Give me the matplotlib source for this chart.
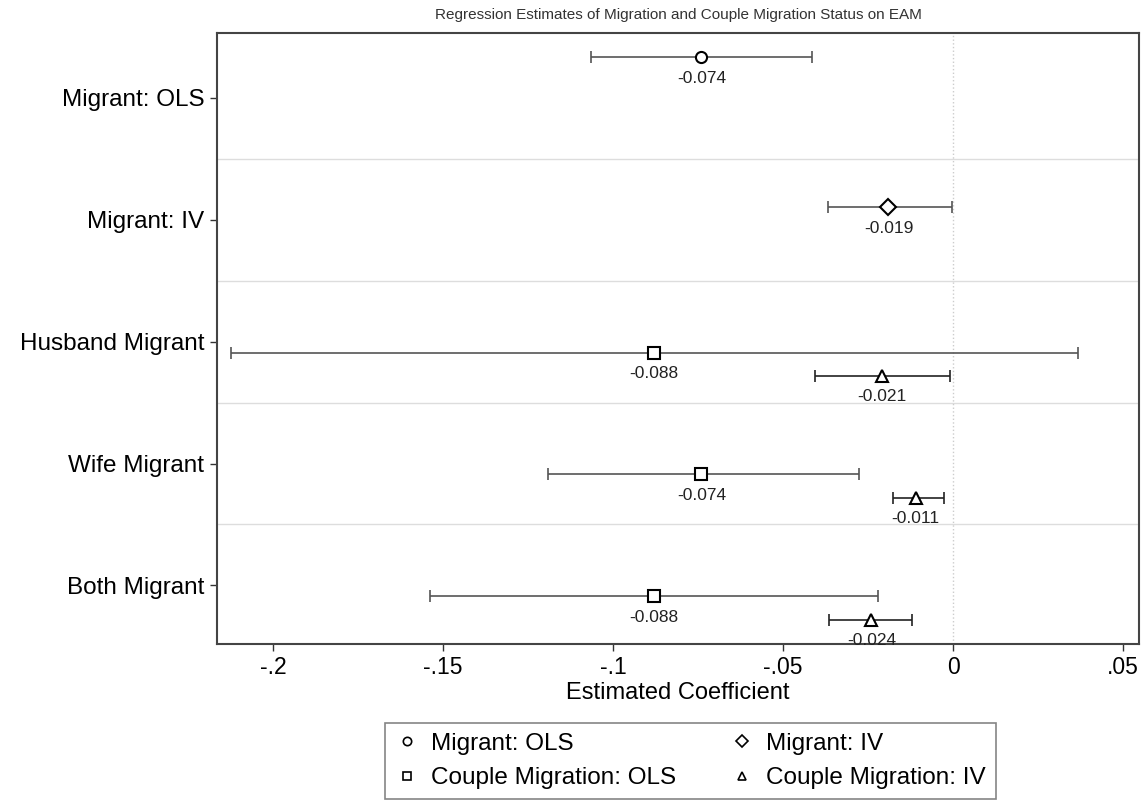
import matplotlib
matplotlib.use("Agg")
import matplotlib.pyplot as plt
from matplotlib.lines import Line2D
import numpy as np

plt.rcParams['font.family'] = ['Liberation Sans', 'DejaVu Sans']

categories = ["Migrant: OLS", "Migrant: IV", "Husband Migrant", "Wife Migrant", "Both Migrant"]

mig_ols_cat = [0]
mig_ols_est = [-0.074]
mig_ols_lo = [-0.1065]
mig_ols_hi = [-0.0415]

mig_iv_cat = [1]
mig_iv_est = [-0.019]
mig_iv_lo = [-0.0368]
mig_iv_hi = [-0.0003]

cpl_ols_cat = [2, 3, 4]
cpl_ols_est = [-0.088, -0.074, -0.088]
cpl_ols_lo = [-0.2124, -0.1191, -0.1538]
cpl_ols_hi = [0.0368, -0.0276, -0.0221]

cpl_iv_cat = [2, 3, 4]
cpl_iv_est = [-0.021, -0.011, -0.024]
cpl_iv_lo = [-0.0405, -0.0176, -0.0365]
cpl_iv_hi = [-0.0010, -0.0026, -0.0121]

series = [
    ("Migrant: OLS", mig_ols_cat, mig_ols_est, mig_ols_lo, mig_ols_hi, 'o', -0.33, '#555555'),
    ("Migrant: IV", mig_iv_cat, mig_iv_est, mig_iv_lo, mig_iv_hi, 'D', -0.10, '#555555'),
    ("Couple Migration: OLS", cpl_ols_cat, cpl_ols_est, cpl_ols_lo, cpl_ols_hi, 's', 0.09, '#555555'),
    ("Couple Migration: IV", cpl_iv_cat, cpl_iv_est, cpl_iv_lo, cpl_iv_hi, '^', 0.28, '#222222'),
]

fig = plt.figure(figsize=(11.47, 8.11), dpi=100)
ax = fig.add_axes([217/1147, 1 - 644/811, (1139-217)/1147, (644-33)/811])

ypos = np.arange(1, len(categories) + 1)

for b in ypos[:-1] + 0.5:
    ax.axhline(b, color='#dddddd', lw=1.0, zorder=0)
ax.axvline(0, color='#cccccc', lw=1.0, ls=':', zorder=0)

msizes = {'o': 8, 'D': 8, 's': 9, '^': 8}
for name, cats, est, lo, hi, mk, off, col in series:
    y = np.array(cats) + 1 + off
    est = np.array(est); lo = np.array(lo); hi = np.array(hi)
    ax.errorbar(est, y, xerr=[est - lo, hi - est], fmt='none', ecolor=col,
                elinewidth=1.2, capsize=4, capthick=1.2, zorder=2)
    ax.plot(est, y, ls='none', marker=mk, ms=msizes[mk], mfc='white', mec='black',
            mew=1.5, zorder=3)
    for xv, yv in zip(est, y):
        ax.annotate(f"{xv:.3f}", (xv, yv), xytext=(0, -15), textcoords='offset points',
                    ha='center', va='center', fontsize=12.5, color='#222222', zorder=4)

ax.set_xlim(-0.2165, 0.0547)
ax.set_ylim(5.48, 0.47)
ax.set_yticks(ypos)
ax.set_yticklabels(categories, fontsize=17.5)
xt = [-0.2, -0.15, -0.1, -0.05, 0, 0.05]
ax.set_xticks(xt)
ax.set_xticklabels(["-.2", "-.15", "-.1", "-.05", "0", ".05"], fontsize=16.5)
ax.tick_params(axis='both', direction='out', length=5, width=1, color='#333333', pad=4)
ax.set_xlabel("Estimated Coefficient", fontsize=17, labelpad=2)
for s in ax.spines.values():
    s.set_color('#444444')
    s.set_linewidth(1.5)

fig.text((217+1139)/2/1147, 1 - 15/811,
         "Regression Estimates of Migration and Couple Migration Status on EAM",
         ha='center', va='center', fontsize=11, color='#333333')

handles = [Line2D([], [], ls='none', marker=mk, ms=6, mfc='white', mec='black', mew=1.2)
           for _, _, _, _, _, mk, _, _ in series]
labels = [s[0] for s in series]
order = [0, 2, 1, 3]
leg = fig.legend([handles[i] for i in order], [labels[i] for i in order], ncol=2,
                 loc='center', bbox_to_anchor=((378+1003)/2/1147, 1 - 761/811),
                 fontsize=17.5, frameon=True, fancybox=False, edgecolor='#666666',
                 handletextpad=0.5, columnspacing=2.2, borderpad=0.4, labelspacing=0.5,
                 handlelength=1.0)
leg.get_frame().set_linewidth(1.2)

fig.savefig("out.png", dpi=100)
